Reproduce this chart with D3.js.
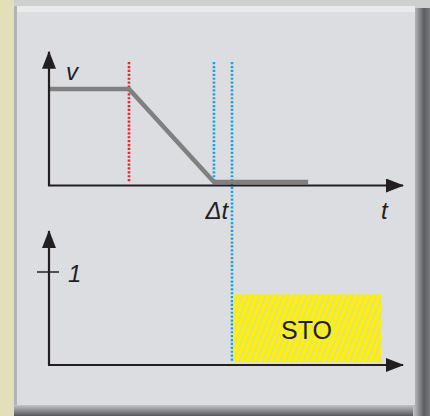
<!DOCTYPE html>
<html>
<head>
<meta charset="utf-8">
<script src="https://cdn.jsdelivr.net/npm/d3@7"></script>
<style>
  html, body { margin: 0; padding: 0; background: #cfcfcf; }
  svg { display: block; }
</style>
</head>
<body>
<div id="chart"></div>
<script>
// speed profile (arbitrary time units, v normalised)
const speedTime = [0, 2.26, 4.66, 7.32];
const speedValue = [1, 1, 0, 0];

// marker lines: time, colour, which panels they cross
const markerTime = [2.26, 4.66, 5.17];
const markerColor = ['#e8262c', '#1aa3e0', '#1aa3e0'];
const markerLong = [false, false, true];

// STO signal
const stoStart = 5.17;
const stoEnd = 9.38;
const stoLevel = 0.76;
const stoLabel = 'STO';

const sigTicks = [1];
const sigTickLabels = ['1'];

const W = 430, H = 416;

let svg = d3.select('#chart')
  .append('svg')
  .attr('width', W)
  .attr('height', H);

let defs = svg.append('defs');

let shadowR = defs.append('linearGradient').attr('id', 'shR')
  .attr('x1', 0).attr('x2', 1).attr('y1', 0).attr('y2', 0);
shadowR.append('stop').attr('offset', 0).attr('stop-color', '#c4c5c8');
shadowR.append('stop').attr('offset', 0.65).attr('stop-color', '#5c5d60');
shadowR.append('stop').attr('offset', 1).attr('stop-color', '#7a7b7e');

let shadowB = defs.append('linearGradient').attr('id', 'shB')
  .attr('x1', 0).attr('x2', 0).attr('y1', 0).attr('y2', 1);
shadowB.append('stop').attr('offset', 0).attr('stop-color', '#c4c5c8');
shadowB.append('stop').attr('offset', 1).attr('stop-color', '#56575a');

let hatch = defs.append('pattern')
  .attr('id', 'hatch')
  .attr('patternUnits', 'userSpaceOnUse')
  .attr('width', 5.4).attr('height', 10)
  .attr('patternTransform', 'rotate(22)');
hatch.append('rect').attr('width', 5.4).attr('height', 10).attr('fill', '#fff200');
hatch.append('line')
  .attr('x1', 0.7).attr('x2', 0.7).attr('y1', 0).attr('y2', 10)
  .attr('stroke', '#d6d6cc').attr('stroke-width', 1.2);

let arrow = defs.append('marker')
  .attr('id', 'arr')
  .attr('viewBox', '0 0 18 14')
  .attr('refX', 17).attr('refY', 7)
  .attr('markerWidth', 18).attr('markerHeight', 14)
  .attr('markerUnits', 'userSpaceOnUse')
  .attr('orient', 'auto');
arrow.append('path').attr('d', 'M0,0 L18,7 L0,14 Z').attr('fill', '#231f20');

// background / frame
svg.append('rect').attr('width', W).attr('height', H).attr('fill', '#cfcfcf');
svg.append('rect').attr('x', 0).attr('y', 0).attr('width', 14).attr('height', H).attr('fill', '#e1e0bb');
svg.append('rect').attr('x', 14).attr('y', 405).attr('width', 404).attr('height', 11).attr('fill', 'url(#shB)');
svg.append('rect').attr('x', 413).attr('y', 8).attr('width', 17).attr('height', H).attr('fill', 'url(#shR)');
svg.append('rect').attr('x', 14).attr('y', 6).attr('width', 401).attr('height', 399).attr('fill', '#b3b4ba');
svg.append('rect').attr('x', 17).attr('y', 6).attr('width', 398).attr('height', 399).attr('fill', '#dcdde0');
svg.append('rect').attr('x', 17).attr('y', 6).attr('width', 398).attr('height', 6).attr('fill', '#e9eaec');

// scales
const x = d3.scaleLinear().domain([0, 10]).range([49, 403]);
const yTop = d3.scaleLinear().domain([0, 1]).range([182, 89]);
const yBot = d3.scaleLinear().domain([0, 1]).range([365, 272]);

const topAxisY = yTop(0) + 3.5;
const botAxisY = yBot(0);

// top panel
let gTop = svg.append('g');

markerTime.forEach(function (t, i) {
  gTop.append('line')
    .attr('x1', x(t)).attr('x2', x(t))
    .attr('y1', yTop(1.29))
    .attr('y2', markerLong[i] ? yBot(0.03) : yTop(-0.01))
    .attr('stroke', markerColor[i])
    .attr('stroke-width', 2.6)
    .attr('stroke-dasharray', '2.2,1.7');
});

gTop.append('path')
  .datum(d3.zip(speedTime, speedValue))
  .attr('d', d3.line().x(d => x(d[0])).y(d => yTop(d[1])))
  .attr('fill', 'none')
  .attr('stroke', '#808080')
  .attr('stroke-width', 4.5);

gTop.append('line')
  .attr('x1', x(0)).attr('x2', x(0))
  .attr('y1', topAxisY).attr('y2', yTop(1.4))
  .attr('stroke', '#231f20').attr('stroke-width', 2.2)
  .attr('marker-end', 'url(#arr)');
gTop.append('line')
  .attr('x1', x(0) - 1).attr('x2', x(10))
  .attr('y1', topAxisY).attr('y2', topAxisY)
  .attr('stroke', '#231f20').attr('stroke-width', 2.2)
  .attr('marker-end', 'url(#arr)');

const italic = 'Liberation Sans, Arial, sans-serif';

gTop.append('text')
  .attr('x', x(0.48)).attr('y', yTop(1.1))
  .attr('font-family', italic).attr('font-style', 'italic')
  .attr('font-size', 24).attr('fill', '#231f20')
  .text('v');

gTop.append('text')
  .attr('x', x(4.42)).attr('y', 219)
  .attr('font-family', italic).attr('font-style', 'italic')
  .attr('font-size', 24).attr('fill', '#231f20')
  .text('\u0394t');

gTop.append('text')
  .attr('x', x(9.38)).attr('y', 219)
  .attr('font-family', italic).attr('font-style', 'italic')
  .attr('font-size', 24).attr('fill', '#231f20')
  .text('t');

// bottom panel
let gBot = svg.append('g');

gBot.append('rect')
  .attr('x', x(stoStart) + 1)
  .attr('y', yBot(stoLevel))
  .attr('width', x(stoEnd) - x(stoStart) - 1)
  .attr('height', yBot(0.03) - yBot(stoLevel))
  .attr('fill', 'url(#hatch)');

gBot.append('text')
  .attr('x', (x(stoStart) + x(stoEnd)) / 2)
  .attr('y', yBot(stoLevel / 2) + 9)
  .attr('text-anchor', 'middle')
  .attr('font-family', 'Liberation Sans, Arial, sans-serif')
  .attr('font-size', 25).attr('fill', '#231f20')
  .text(stoLabel);

gBot.append('line')
  .attr('x1', x(0)).attr('x2', x(0))
  .attr('y1', botAxisY).attr('y2', yBot(1.44))
  .attr('stroke', '#231f20').attr('stroke-width', 2.2)
  .attr('marker-end', 'url(#arr)');
gBot.append('line')
  .attr('x1', x(0) - 1).attr('x2', x(10))
  .attr('y1', botAxisY).attr('y2', botAxisY)
  .attr('stroke', '#231f20').attr('stroke-width', 2.2)
  .attr('marker-end', 'url(#arr)');

sigTicks.forEach(function (v, i) {
  gBot.append('line')
    .attr('x1', x(0) - 12).attr('x2', x(0) + 10)
    .attr('y1', yBot(v)).attr('y2', yBot(v))
    .attr('stroke', '#231f20').attr('stroke-width', 1.5);
  gBot.append('text')
    .attr('x', x(0) + 19).attr('y', yBot(v) + 10)
    .attr('font-family', italic).attr('font-style', 'italic')
    .attr('font-size', 24).attr('fill', '#231f20')
    .text(sigTickLabels[i]);
});
</script>
</body>
</html>
